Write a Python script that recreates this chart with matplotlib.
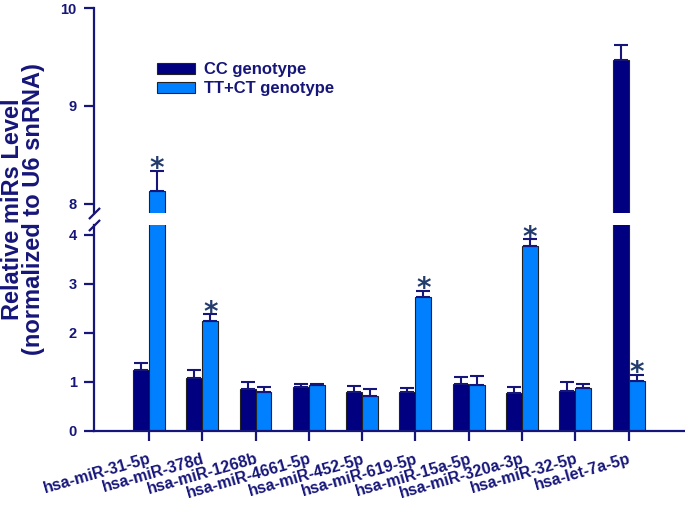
import matplotlib
matplotlib.use("Agg")
import matplotlib.pyplot as plt
import numpy as np

categories = ['hsa-miR-31-5p', 'hsa-miR-378d', 'hsa-miR-1268b', 'hsa-miR-4661-5p',
              'hsa-miR-452-5p', 'hsa-miR-619-5p', 'hsa-miR-15a-5p', 'hsa-miR-320a-3p',
              'hsa-miR-32-5p', 'hsa-let-7a-5p']
cc_mean = [1.25, 1.09, 0.85, 0.90, 0.79, 0.79, 0.95, 0.77, 0.82, 9.47]
cc_err = [0.14, 0.16, 0.14, 0.05, 0.13, 0.08, 0.15, 0.12, 0.18, 0.15]
tt_mean = [8.13, 2.25, 0.80, 0.93, 0.72, 2.73, 0.93, 3.78, 0.88, 1.02]
tt_err = [0.21, 0.13, 0.10, 0.02, 0.13, 0.13, 0.19, 0.13, 0.07, 0.12]
tt_signif = [True, True, False, False, False, True, False, True, False, True]
series_labels = ['CC genotype', 'TT+CT genotype']
lower_ticks = [0, 1, 2, 3, 4]
upper_ticks = [8, 9, 10]

CC_COLOR = '#000080'
TT_COLOR = '#0080FF'
NAVY = '#16167A'
STAR = '#233C6E'

plt.rcParams['font.family'] = ['Liberation Sans', 'DejaVu Sans']
plt.rcParams['font.weight'] = 'bold'

fig = plt.figure(figsize=(6.85, 5.07), dpi=100)
ax_lo = fig.add_axes([94/685, 76/507, 591/685, 206/507])
ax_hi = fig.add_axes([94/685, 294/507, 591/685, 205/507])

x = np.arange(len(categories))
w = 0.30

for ax in (ax_lo, ax_hi):
    ax.bar(x - w/2, cc_mean, width=w, color=CC_COLOR, edgecolor='#222222', linewidth=0.8,
           label=series_labels[0], zorder=2)
    ax.bar(x + w/2, tt_mean, width=w, color=TT_COLOR, edgecolor='#222222', linewidth=0.8,
           label=series_labels[1], zorder=2)
    ax.errorbar(x - w/2, cc_mean, yerr=[np.zeros(len(x)), cc_err], fmt='none',
                ecolor=NAVY, elinewidth=1.5, capsize=5, capthick=1.5, zorder=3)
    ax.errorbar(x + w/2, tt_mean, yerr=[np.zeros(len(x)), tt_err], fmt='none',
                ecolor=NAVY, elinewidth=1.5, capsize=5, capthick=1.5, zorder=3)
    ax.set_xlim(-1.031, 10.06)
    for s in ('top', 'right'):
        ax.spines[s].set_visible(False)
    ax.spines['left'].set_color(NAVY)
    ax.spines['left'].set_linewidth(1.6)
    ax.tick_params(axis='y', colors=NAVY, length=7.5, width=1.6, labelsize=10.5, pad=5)

ax_lo.set_ylim(0, 4.204)
ax_hi.set_ylim(7.908, 10)
ax_lo.set_yticks(lower_ticks)
ax_hi.set_yticks(upper_ticks)
ax_lo.set_yticklabels([str(t) for t in lower_ticks], fontweight='bold', color=NAVY)
ax_hi.set_yticklabels([str(t) for t in upper_ticks], fontweight='bold', color=NAVY)

ax_hi.spines['bottom'].set_visible(False)
ax_hi.tick_params(axis='x', bottom=False, labelbottom=False)
ax_lo.spines['bottom'].set_color(NAVY)
ax_lo.spines['bottom'].set_linewidth(1.6)
ax_lo.set_xticks(x)
ax_lo.set_xticklabels(categories, rotation=16, ha='right', rotation_mode='anchor',
                      fontsize=11.5, fontweight='bold', color=NAVY)
ax_lo.tick_params(axis='x', colors=NAVY, length=7.5, width=1.6, pad=7)

# asterisks
for ax in (ax_lo, ax_hi):
    lo, hi = ax.get_ylim()
    for i in range(len(x)):
        if tt_signif[i]:
            top = tt_mean[i] + tt_err[i]
            if lo <= top <= hi:
                ax.annotate('*', xy=(x[i] + w/2, top), xytext=(0, -4.5),
                            textcoords='offset points', ha='center', va='baseline',
                            fontsize=20, fontweight='bold', color=STAR,
                            family='DejaVu Sans', annotation_clip=False)

# break marks
kw = dict(marker=[(-1, -1), (1, 1)], markersize=8, linestyle='none', color=NAVY,
          mec=NAVY, mew=1.6, clip_on=False)
ax_hi.plot([0], [0], transform=ax_hi.transAxes, **kw)
ax_lo.plot([0], [1], transform=ax_lo.transAxes, **kw)

# y label
fig.text(0.002, 0.588, 'Relative miRs Level\n(normalized to U6 snRNA)', rotation=90,
         ha='left', va='center', fontsize=17, fontweight='bold', color=NAVY,
         linespacing=0.85, multialignment='center')

# legend
handles, labels = ax_hi.get_legend_handles_labels()
leg = fig.legend(handles[:2], labels[:2], loc='upper left', bbox_to_anchor=(157/685, 1 - 62/507),
                 frameon=False, prop={'size': 12, 'weight': 'bold'}, handlelength=2.3,
                 handleheight=0.62, labelspacing=0.25, handletextpad=0.5, borderpad=0,
                 borderaxespad=0)
for t in leg.get_texts():
    t.set_color(NAVY)

fig.savefig('out.png', dpi=100)
